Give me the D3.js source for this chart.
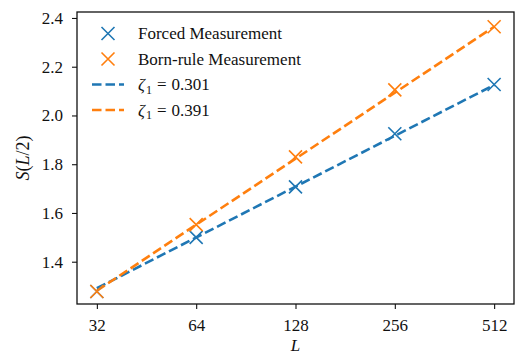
<!DOCTYPE html>
<html>
<head>
<meta charset="utf-8">
<script src="https://cdn.jsdelivr.net/npm/d3@7"></script>
<style>
  body { margin: 0; background: #fff; }
  svg text { font-family: "Liberation Serif", "DejaVu Serif", serif; fill: #111; }
</style>
</head>
<body>
<div id="chart"></div>
<script>
// system sizes L and half-chain entanglement S(L/2)
const sizes = [32, 64, 128, 256, 512];
const forced = [1.278, 1.50, 1.707, 1.925, 2.127];
const born = [1.278, 1.552, 1.83, 2.105, 2.364];

// fitted dashed lines, value at L = 32 and L = 512
const fitSizes = [32, 512];
const forcedFit = [1.291, 2.125];
const bornFit = [1.281, 2.364];

const yTicks = [1.4, 1.6, 1.8, 2.0, 2.2, 2.4];

const width = 518, height = 356;
const margin = { top: 12, right: 4, bottom: 52, left: 77 };
const innerW = width - margin.left - margin.right;
const innerH = height - margin.top - margin.bottom;

const blue = '#1f77b4', orange = '#ff7f0e';

const svg = d3.select('#chart').append('svg')
  .attr('width', width)
  .attr('height', height);

const g = svg.append('g')
  .attr('transform', 'translate(' + margin.left + ',' + margin.top + ')');

// log2 axis with matplotlib-like 5% padding
const lo = Math.log2(32), hi = Math.log2(512), pad = (hi - lo) * 0.05;
const x = d3.scaleLog().base(2)
  .domain([Math.pow(2, lo - pad), Math.pow(2, hi + pad)])
  .range([0, innerW]);

const y = d3.scaleLinear()
  .domain([1.2265, 2.4245])
  .range([innerH, 0]);

// fit lines
const line = d3.line()
  .x(function(d) { return x(d[0]); })
  .y(function(d) { return y(d[1]); });

[[forcedFit, blue], [bornFit, orange]].forEach(function(s) {
  g.append('path')
    .datum(fitSizes.map(function(L, i) { return [L, s[0][i]]; }))
    .attr('d', line)
    .attr('fill', 'none')
    .attr('stroke', s[1])
    .attr('stroke-width', 2.6)
    .attr('stroke-dasharray', '9.5,4');
});

// cross markers
function cross(sel, color, r) {
  sel.append('path')
    .attr('d', 'M' + (-r) + ',' + (-r) + 'L' + r + ',' + r + 'M' + (-r) + ',' + r + 'L' + r + ',' + (-r))
    .attr('stroke', color)
    .attr('stroke-width', 1.6)
    .attr('fill', 'none');
}

[[forced, blue], [born, orange]].forEach(function(s) {
  sizes.forEach(function(L, i) {
    const m = g.append('g')
      .attr('transform', 'translate(' + x(L) + ',' + y(s[0][i]) + ')');
    cross(m, s[1], 6.5);
  });
});

// axes
const xAxis = g.append('g')
  .attr('transform', 'translate(0,' + innerH + ')')
  .call(d3.axisBottom(x).tickValues(sizes).tickFormat(d3.format('d')).tickSize(5).tickPadding(10));

const yAxis = g.append('g')
  .call(d3.axisLeft(y).tickValues(yTicks).tickFormat(d3.format('.1f')).tickSize(5).tickPadding(9));

[xAxis, yAxis].forEach(function(a) {
  a.select('.domain').remove();
  a.selectAll('.tick line').attr('stroke', '#111').attr('stroke-width', 1.1);
  a.selectAll('.tick text')
    .style('font-family', '"Liberation Serif", serif')
    .style('font-size', '17px')
    .attr('fill', '#111');
});

// frame
g.append('rect')
  .attr('width', innerW)
  .attr('height', innerH)
  .attr('fill', 'none')
  .attr('stroke', '#111')
  .attr('stroke-width', 1.3);

// axis labels
svg.append('text')
  .attr('x', margin.left + x(128))
  .attr('y', 351)
  .attr('text-anchor', 'middle')
  .style('font-size', '17px')
  .style('font-style', 'italic')
  .text('L');

const yl = svg.append('text')
  .attr('transform', 'translate(29,' + (margin.top + innerH / 2) + ') rotate(-90)')
  .attr('text-anchor', 'middle')
  .style('font-size', '18px');
yl.append('tspan').style('font-style', 'italic').text('S');
yl.append('tspan').text('(');
yl.append('tspan').style('font-style', 'italic').text('L');
yl.append('tspan').text('/2)');

// legend
const legend = svg.append('g');
const rows = [
  { kind: 'x', color: blue, label: 'Forced Measurement' },
  { kind: 'x', color: orange, label: 'Born-rule Measurement' },
  { kind: 'line', color: blue, label: '0.301' },
  { kind: 'line', color: orange, label: '0.391' }
];
rows.forEach(function(r, i) {
  const cy = 33.5 + i * 25.5;
  if (r.kind === 'x') {
    const m = legend.append('g').attr('transform', 'translate(108,' + cy + ')');
    cross(m, r.color, 6.5);
    legend.append('text')
      .attr('x', 138).attr('y', cy + 5.5)
      .style('font-size', '17px')
      .text(r.label);
  } else {
    legend.append('line')
      .attr('x1', 92).attr('x2', 124)
      .attr('y1', cy).attr('y2', cy)
      .attr('stroke', r.color)
      .attr('stroke-width', 2.6)
      .attr('stroke-dasharray', '9.5,4');
    const t = legend.append('text')
      .attr('x', 138).attr('y', cy + 5.5)
      .style('font-size', '17px');
    t.append('tspan').style('font-style', 'italic').text('ζ');
    t.append('tspan').attr('dy', 3.5).attr('dx', 1).style('font-size', '12px').text('1');
    t.append('tspan').attr('dy', -3.5).attr('dx', 5).text('=');
    t.append('tspan').attr('dx', 5).text(r.label);
  }
});
</script>
</body>
</html>
